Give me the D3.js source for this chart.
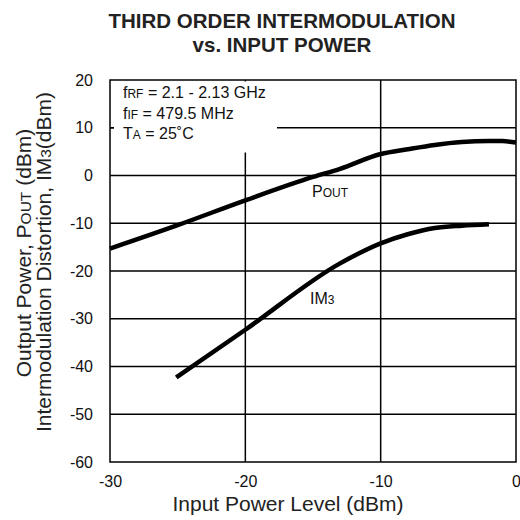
<!DOCTYPE html>
<html>
<head>
<meta charset="utf-8">
<script src="https://cdn.jsdelivr.net/npm/d3@7"></script>
<style>
  body { margin: 0; background: #fff; }
  svg { display: block; font-family: 'Liberation Sans', Arial, sans-serif; }
</style>
</head>
<body>
<svg id="chart" width="520" height="520"></svg>
<script>
// data
const xTicks = [-30, -20, -10, 0]
const yTicks = [20, 10, 0, -10, -20, -30, -40, -50, -60]

const poutIn = [-30, -25, -20, -15, -13, -10, -8, -6, -4, -2, -1, 0]
const poutVal = [-15.3, -10.4, -5.2, -0.3, 1.4, 4.5, 5.5, 6.4, 7.0, 7.2, 7.2, 6.9]

const im3In = [-25.1, -20, -13, -10, -8, -6, -4, -2]
const im3Val = [-42.3, -32.3, -18.4, -14.2, -12.3, -11.0, -10.5, -10.2]

const pout = poutIn.map((d, i) => ({ x: d, y: poutVal[i] }))
const im3 = im3In.map((d, i) => ({ x: d, y: im3Val[i] }))

const svg = d3.select('#chart')

const x = d3.scaleLinear().domain([-30, 0]).range([110, 516])
const y = d3.scaleLinear().domain([-60, 20]).range([462, 80])

// title
svg.append('text')
  .attr('x', 282).attr('y', 28)
  .attr('text-anchor', 'middle')
  .style('font-size', '20.5px').style('font-weight', 'bold').style('fill', '#222')
  .text('THIRD ORDER INTERMODULATION')
svg.append('text')
  .attr('x', 282).attr('y', 52)
  .attr('text-anchor', 'middle')
  .style('font-size', '20.5px').style('font-weight', 'bold').style('fill', '#222')
  .text('vs. INPUT POWER')

// grid lines
const grid = svg.append('g').attr('stroke', '#000').attr('stroke-width', 1.5)
grid.selectAll('line.h')
  .data(yTicks.filter((d) => d !== 20 && d !== -60))
  .join('line')
  .attr('x1', x(-30)).attr('x2', x(0))
  .attr('y1', (d) => y(d)).attr('y2', (d) => y(d))
grid.selectAll('line.v')
  .data(xTicks.filter((d) => d !== -30 && d !== 0))
  .join('line')
  .attr('x1', (d) => x(d)).attr('x2', (d) => x(d))
  .attr('y1', y(20)).attr('y2', y(-60))

// frame
svg.append('rect')
  .attr('x', x(-30)).attr('y', y(20))
  .attr('width', x(0) - x(-30)).attr('height', y(-60) - y(20))
  .attr('fill', 'none').attr('stroke', '#000').attr('stroke-width', 1.5)

// white box behind the conditions note
svg.append('rect')
  .attr('x', x(-30) + 4).attr('y', y(20) + 1.5)
  .attr('width', 163).attr('height', 71)
  .attr('fill', '#fff')

// conditions note with small caps subscripts
const note = [
  ['f', 'RF', ' = 2.1 - 2.13 GHz'],
  ['f', 'IF', ' = 479.5 MHz'],
  ['T', 'A', ' = 25˚C']
]
note.forEach((n, i) => {
  const t = svg.append('text')
    .attr('x', 123).attr('y', 98 + i * 20.5)
    .style('font-size', '16px').style('fill', '#111')
  t.append('tspan').text(n[0])
  t.append('tspan').style('font-size', '12px').text(n[1])
  t.append('tspan').text(n[2])
})

// axes tick labels (plain hyphen minus like the datasheet)
svg.append('g')
  .attr('transform', `translate(0,${y(-60)})`)
  .call(d3.axisBottom(x).tickValues(xTicks).tickSize(0).tickPadding(14).tickFormat((d) => String(d)))
  .call((g) => g.select('.domain').remove())
  .call((g) => g.selectAll('text').style('font-size', '16px').style('font-family', 'inherit').attr('fill', '#111'))

svg.append('g')
  .attr('transform', `translate(${x(-30)},0)`)
  .call(d3.axisLeft(y).tickValues(yTicks).tickSize(0).tickPadding(17).tickFormat((d) => String(d)))
  .call((g) => g.select('.domain').remove())
  .call((g) => g.selectAll('text').style('font-size', '16px').style('font-family', 'inherit').attr('fill', '#111'))

// small stub of the 10 dBm grid line
svg.append('line')
  .attr('x1', x(-30)).attr('x2', x(-30) + 4)
  .attr('y1', y(10)).attr('y2', y(10))
  .attr('stroke', '#000').attr('stroke-width', 1.5)

// axis titles
svg.append('text')
  .attr('x', 288).attr('y', 511)
  .attr('text-anchor', 'middle')
  .style('font-size', '21px').style('fill', '#222')
  .text('Input Power Level (dBm)')

const yl1 = svg.append('text')
  .attr('transform', 'translate(31,253) rotate(-90)')
  .attr('text-anchor', 'middle')
  .style('font-size', '21px').style('fill', '#222')
yl1.append('tspan').text('Output Power, P')
yl1.append('tspan').style('font-size', '15.5px').text('OUT')
yl1.append('tspan').text(' (dBm)')

const yl2 = svg.append('text')
  .attr('transform', 'translate(51,262) rotate(-90)')
  .attr('text-anchor', 'middle')
  .style('font-size', '21px').style('fill', '#222')
yl2.append('tspan').text('Intermodulation Distortion, IM')
yl2.append('tspan').style('font-size', '15.5px').text('3')
yl2.append('tspan').text('(dBm)')

// curves
const line = d3.line()
  .x((d) => x(d.x))
  .y((d) => y(d.y))
  .curve(d3.curveMonotoneX)

svg.append('path')
  .datum(pout)
  .attr('fill', 'none').attr('stroke', '#000').attr('stroke-width', 4.5)
  .attr('d', line)

svg.append('path')
  .datum(im3)
  .attr('fill', 'none').attr('stroke', '#000').attr('stroke-width', 4.5)
  .attr('d', line)

// curve labels
const pl = svg.append('text')
  .attr('x', 312).attr('y', 197)
  .style('font-size', '16px').style('fill', '#111')
pl.append('tspan').text('P')
pl.append('tspan').style('font-size', '12px').text('OUT')

const il = svg.append('text')
  .attr('x', 310).attr('y', 304)
  .style('font-size', '16px').style('fill', '#111')
il.append('tspan').text('IM')
il.append('tspan').style('font-size', '12px').text('3')
</script>
</body>
</html>
